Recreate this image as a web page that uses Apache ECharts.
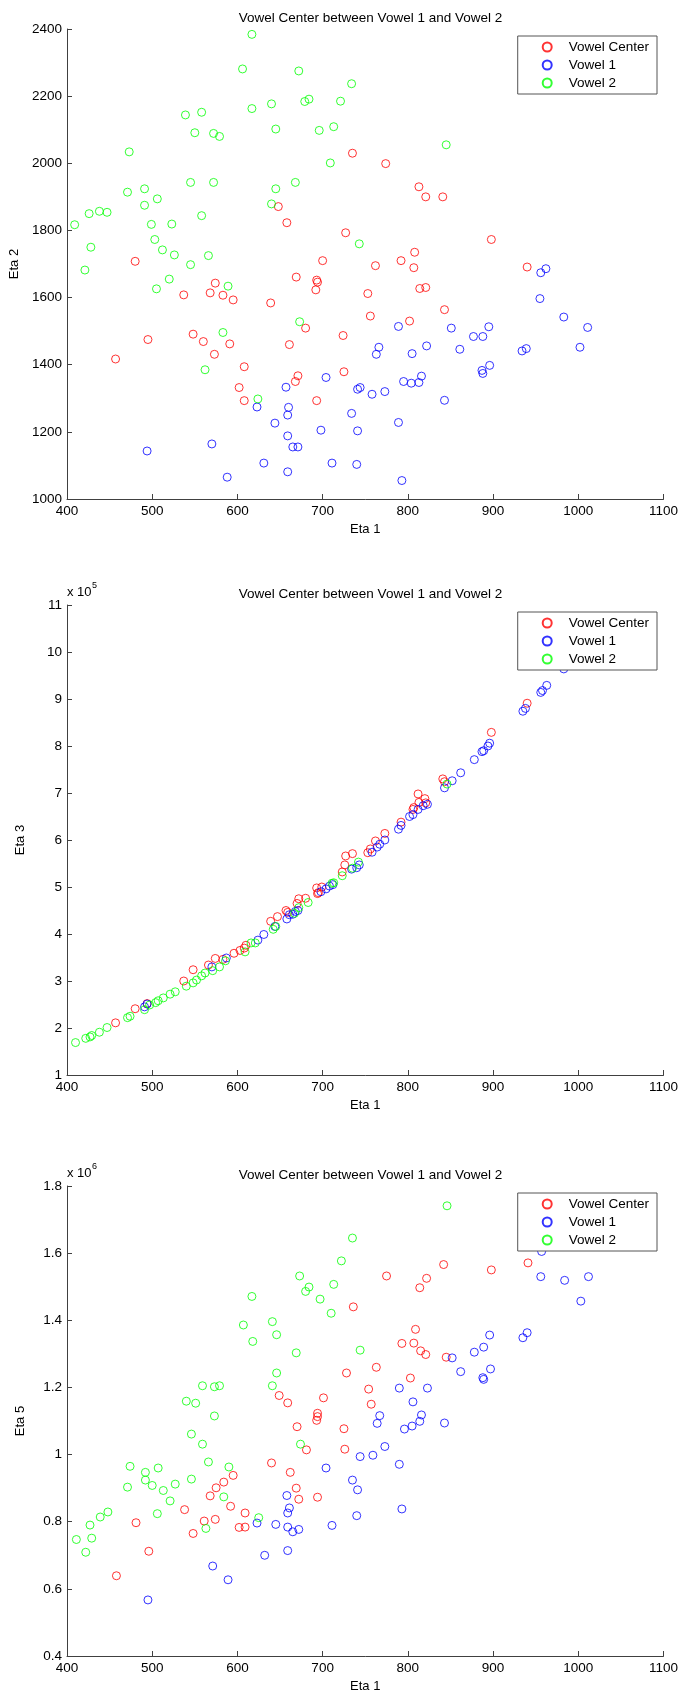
<!DOCTYPE html>
<html><head><meta charset="utf-8">
<script src="https://cdn.jsdelivr.net/npm/echarts@6/dist/echarts.min.js"></script>
<style>html,body{margin:0;padding:0;background:#fff}#c{width:681px;height:1698px}</style>
</head><body><div id="c"></div>
<script>
const seriesNames = ['Vowel Center', 'Vowel 1', 'Vowel 2'];
const seriesColors = ['#ff0000', '#0000ff', '#00ff00'];
const chartTitle = 'Vowel Center between Vowel 1 and Vowel 2';
const xName = 'Eta 1';
const yNames = ['Eta 2', 'Eta 3', 'Eta 5'];
const xRange = [400, 1100, 100];
const yRanges = [[1000, 2400, 200], [1, 11, 1], [0.4, 1.8, 0.2]];
const yExponents = [null, '5', '6'];

// Plot 1: [Eta 1, Eta 2]
const center_eta2 = [[735,2030],[648,1871],[658,1823],[727,1793],[480,1708],[700,1710],[669,1661],[693,1652],[694,1646],[692,1623],
  [574,1643],[537,1608],[568,1614],[583,1607],[595,1593],[639,1584],[548,1491],[495,1475],[560,1469],[591,1462],
  [573,1431],[661,1460],[680,1509],[724,1487],[457,1417],[608,1394],[725,1379],[671,1367],[668,1350],[602,1332],
  [608,1293],[693,1293],[774,1999],[813,1930],[821,1900],[841,1900],[898,1773],[940,1691],[762,1695],[808,1735],
  [792,1710],[807,1689],[753,1612],[814,1627],[821,1630],[843,1564],[756,1545],[802,1530]];
const vowel1_eta2 = [[657,1333],[704,1362],[741,1327],[744,1332],[623,1274],[660,1273],[659,1250],[734,1255],[644,1226],[698,1205],
  [741,1203],[659,1188],[570,1164],[665,1155],[671,1155],[494,1143],[588,1065],[631,1107],[659,1081],[711,1107],
  [740,1103],[789,1228],[793,1055],[843,1294],[956,1674],[962,1686],[955,1597],[983,1542],[1011,1511],[1002,1452],
  [934,1441],[939,1448],[895,1513],[877,1484],[888,1484],[851,1509],[861,1446],[896,1398],[887,1383],[888,1374],
  [789,1514],[766,1452],[763,1431],[805,1433],[822,1456],[795,1350],[804,1345],[813,1347],[816,1366],[758,1312],[773,1320]];
const vowel2_eta2 = [[617,2384],[606,2281],[672,2275],[734,2237],[539,2144],[558,2152],[617,2163],[640,2177],[679,2184],[684,2191],
  [721,2185],[550,2091],[572,2089],[579,2080],[645,2102],[696,2098],[713,2109],[473,2034],[709,2001],[545,1943],
  [572,1943],[645,1924],[668,1943],[471,1914],[491,1924],[491,1875],[506,1894],[640,1879],[426,1850],[438,1857],
  [447,1854],[409,1817],[499,1818],[523,1819],[558,1844],[428,1750],[421,1682],[503,1773],[512,1742],[526,1727],
  [566,1725],[545,1698],[505,1626],[520,1655],[589,1634],[743,1760],[673,1528],[583,1496],[562,1385],[624,1298],[845,2055]];

// Plot 2: [Eta 1, Eta 3 (x 10^5)]
const center_eta3 = [[457,2.11],[480,2.41],[494,2.52],[537,3.00],[548,3.24],[566,3.34],[574,3.48],[583,3.46],[596,3.59],[603,3.65],
  [608,3.70],[610,3.76],[639,4.27],[647,4.37],[657,4.50],[659,4.46],[670,4.65],[672,4.75],[680,4.76],[693,4.98],
  [694,4.86],[695,4.88],[699,5.00],[723,5.32],[726,5.47],[727,5.66],[735,5.71],[753,5.73],[756,5.81],[762,5.98],
  [773,6.14],[792,6.38],[806,6.65],[807,6.69],[812,6.98],[820,6.88],[821,6.79],[813,6.80],[841,7.30],[843,7.24],
  [898,8.29],[940,8.91]];
const vowel1_eta3 = [[491,2.45],[494,2.51],[570,3.30],[587,3.49],[624,3.87],[631,3.99],[644,4.16],[658,4.32],[661,4.41],[665,4.42],
  [668,4.48],[671,4.50],[698,4.90],[704,4.96],[708,5.02],[712,5.05],[734,5.38],[740,5.41],[743,5.47],[758,5.74],
  [764,5.85],[767,5.91],[773,6.00],[789,6.23],[792,6.31],[802,6.50],[806,6.54],[812,6.65],[818,6.73],[823,6.76],
  [843,7.11],[852,7.26],[862,7.43],[878,7.71],[887,7.88],[889,7.90],[894,8.00],[896,8.06],[935,8.74],[938,8.80],
  [956,9.14],[958,9.18],[963,9.29],[983,9.64]];
const vowel2_eta3 = [[410,1.69],[422,1.78],[427,1.81],[429,1.84],[438,1.91],[447,2.01],[471,2.22],[474,2.25],[491,2.39],[497,2.49],
  [504,2.54],[507,2.58],[513,2.64],[521,2.72],[527,2.77],[540,2.89],[548,2.96],[552,3.02],[558,3.11],[562,3.17],
  [571,3.22],[579,3.30],[586,3.43],[609,3.62],[616,3.81],[621,3.81],[642,4.10],[645,4.16],[667,4.44],[672,4.56],
  [683,4.67],[711,5.08],[713,5.09],[723,5.24],[735,5.40],[742,5.53],[846,7.19]];

// Plot 3: [Eta 1, Eta 5 (x 10^6)]
const center_eta5 = [[736,1.440],[728,1.243],[701,1.169],[649,1.176],[659,1.154],[694,1.123],[694,1.113],[693,1.102],[670,1.083],[725,1.077],
  [681,1.014],[726,1.016],[640,0.975],[662,0.947],[595,0.938],[584,0.918],[575,0.901],[669,0.900],[568,0.877],[672,0.867],
  [694,0.873],[592,0.846],[538,0.836],[609,0.826],[481,0.797],[561,0.802],[574,0.807],[602,0.783],[609,0.784],[548,0.765],
  [496,0.712],[458,0.639],[842,1.566],[898,1.550],[941,1.571],[775,1.532],[822,1.525],[814,1.497],[809,1.373],[793,1.331],
  [807,1.332],[815,1.309],[821,1.298],[845,1.290],[763,1.260],[803,1.228],[754,1.195],[757,1.150]];
const vowel1_eta5 = [[744,0.994],[704,0.960],[735,0.924],[741,0.895],[740,0.818],[658,0.878],[661,0.841],[659,0.826],[645,0.792],[623,0.796],
  [659,0.784],[665,0.770],[672,0.777],[711,0.789],[659,0.714],[632,0.700],[571,0.668],[589,0.627],[495,0.567],[957,1.605],
  [956,1.530],[984,1.519],[1012,1.530],[1003,1.457],[935,1.348],[940,1.363],[896,1.356],[889,1.320],[878,1.305],[852,1.288],
  [862,1.247],[897,1.255],[888,1.229],[889,1.224],[790,1.198],[823,1.198],[806,1.157],[767,1.116],[764,1.093],[816,1.118],
  [814,1.099],[805,1.085],[796,1.076],[843,1.094],[773,1.024],[759,0.998],[790,0.971],[793,0.838]];
const vowel2_eta5 = [[735,1.645],[722,1.577],[673,1.532],[684,1.499],[680,1.486],[713,1.507],[697,1.463],[710,1.421],[617,1.471],[607,1.386],
  [618,1.337],[641,1.396],[646,1.357],[669,1.303],[646,1.243],[641,1.205],[559,1.205],[573,1.202],[579,1.205],[540,1.159],
  [551,1.153],[573,1.115],[546,1.061],[559,1.031],[566,0.978],[590,0.963],[674,1.031],[474,0.965],[492,0.947],[492,0.924],
  [507,0.960],[500,0.908],[513,0.893],[527,0.912],[546,0.927],[471,0.903],[521,0.862],[506,0.824],[584,0.874],[448,0.829],
  [439,0.814],[427,0.790],[429,0.751],[411,0.747],[422,0.709],[563,0.780],[625,0.812],[846,1.741],[744,1.311]];

const plotData = [
  [center_eta2, vowel1_eta2, vowel2_eta2],
  [center_eta3, vowel1_eta3, vowel2_eta3],
  [center_eta5, vowel1_eta5, vowel2_eta5]
];

// layout
const FONT = 'Liberation Sans, Arial, Helvetica, sans-serif';
const gridLeft = 67, gridWidth = 597, gridHeight = 470;
const gridTops = [29, 605, 1186];
const axisColor = '#404040';

const grids = [], xAxes = [], yAxes = [], titles = [], legends = [], series = [], graphics = [];
gridTops.forEach((top, i) => {
  grids.push({left: gridLeft, top: top, width: gridWidth, height: gridHeight});
  xAxes.push({
    gridIndex: i, type: 'value', min: xRange[0], max: xRange[1], interval: xRange[2],
    name: xName, nameLocation: 'middle', nameGap: 24,
    nameTextStyle: {fontSize: 13, color: '#000', fontFamily: FONT},
    axisLine: {onZero: false, lineStyle: {color: axisColor, width: 1}},
    axisTick: {inside: true, length: 5, lineStyle: {color: axisColor}},
    axisLabel: {fontSize: 13.5, color: '#000', margin: 5, fontFamily: FONT, formatter: v => String(v)},
    splitLine: {show: false}
  });
  const yr = yRanges[i];
  yAxes.push({
    gridIndex: i, type: 'value', min: yr[0], max: yr[1], interval: yr[2],
    name: yNames[i], nameLocation: 'middle', nameGap: 40, nameRotate: 90,
    nameTextStyle: {fontSize: 13, color: '#000', fontFamily: FONT},
    axisLine: {show: true, onZero: false, lineStyle: {color: axisColor, width: 1}},
    axisTick: {show: true, inside: true, length: 5, lineStyle: {color: axisColor}},
    axisLabel: {fontSize: 13.5, color: '#000', margin: 5, fontFamily: FONT,
      formatter: v => String(+(+v).toFixed(2))},
    splitLine: {show: false}
  });
  titles.push({
    text: chartTitle, left: gridLeft + gridWidth / 2, textAlign: 'center', top: top - 23,
    textStyle: {fontSize: 13.5, fontWeight: 'normal', color: '#000', fontFamily: FONT}
  });
  legends.push({
    data: seriesNames, orient: 'vertical', right: 24, top: top + 7,
    backgroundColor: '#fff', borderColor: '#555', borderWidth: 1,
    padding: [3, 8, 3, 24], itemGap: 2, itemWidth: 9, itemHeight: 9, icon: 'circle',
    textStyle: {fontSize: 13.5, lineHeight: 16, color: '#000', fontFamily: FONT, padding: [0, 0, 0, 12]},
    selectedMode: false
  });
  plotData[i].forEach((d, k) => {
    series.push({
      name: seriesNames[k], type: 'scatter', xAxisIndex: i, yAxisIndex: i,
      data: d, symbol: 'circle', symbolSize: 8,
      itemStyle: {color: 'rgba(255,255,255,0)', borderColor: seriesColors[k], borderWidth: 1},
      emphasis: {disabled: true}
    });
  });
  if (yExponents[i]) {
    graphics.push({type: 'text', left: 67, top: top - 19,
      style: {text: 'x 10', fill: '#000', font: '13px ' + FONT}});
    graphics.push({type: 'text', left: 92, top: top - 24,
      style: {text: yExponents[i], fill: '#000', font: '9px ' + FONT}});
  }
});

const chart = echarts.init(document.getElementById('c'), null, {renderer: 'canvas'});
chart.setOption({
  animation: false,
  backgroundColor: '#fff',
  title: titles, grid: grids, xAxis: xAxes, yAxis: yAxes, legend: legends,
  series: series, graphic: graphics
});
</script></body></html>
